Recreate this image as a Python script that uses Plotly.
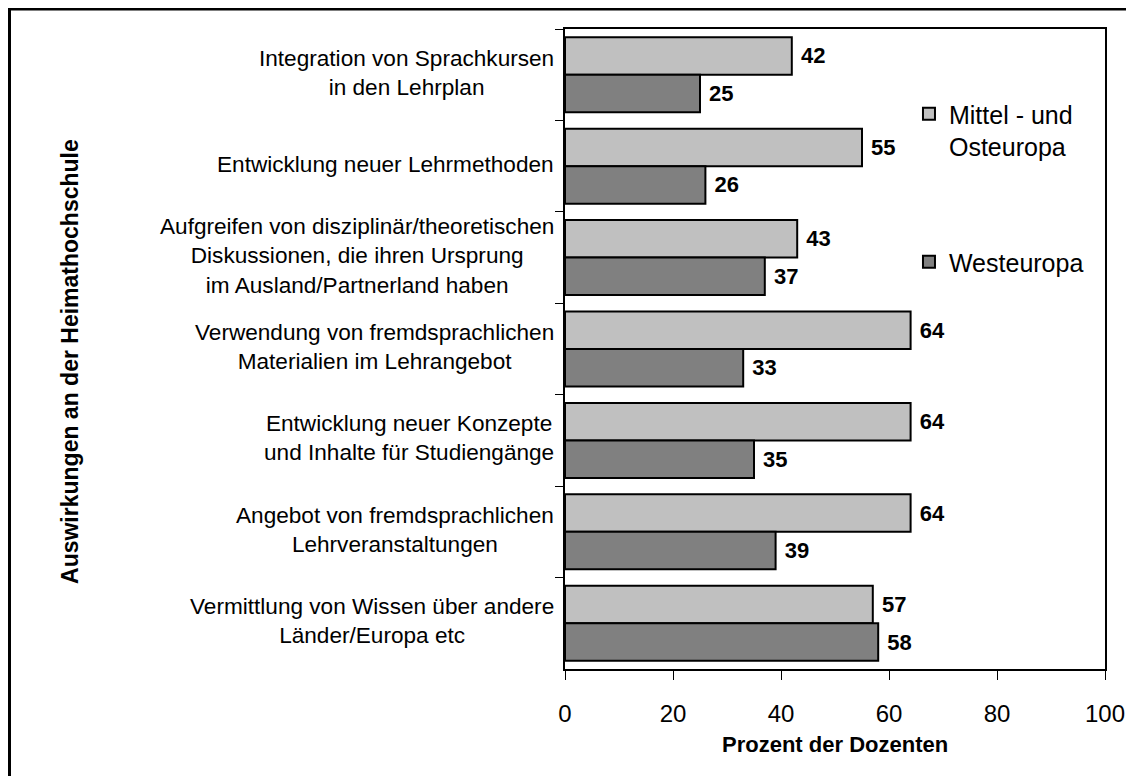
import plotly.graph_objects as go

# categories (top to bottom)
categories = [
    "Integration von Sprachkursen<br>in den Lehrplan",
    "Entwicklung neuer Lehrmethoden",
    "Aufgreifen von disziplinär/theoretischen<br>Diskussionen, die ihren Ursprung<br>im Ausland/Partnerland haben",
    "Verwendung von fremdsprachlichen<br>Materialien im Lehrangebot",
    "Entwicklung neuer Konzepte<br>und Inhalte für Studiengänge",
    "Angebot von fremdsprachlichen<br>Lehrveranstaltungen",
    "Vermittlung von Wissen über andere<br>Länder/Europa etc",
]
mittel_ost = [42, 55, 43, 64, 64, 64, 57]
west = [25, 26, 37, 33, 35, 39, 58]
x_ticks = [0, 20, 40, 60, 80, 100]

FONT = "Liberation Sans, Arial, sans-serif"

fig = go.Figure()
fig.add_trace(go.Bar(
    name="Mittel - und<br>Osteuropa", y=categories, x=mittel_ost, orientation="h",
    marker=dict(color="#C0C0C0", line=dict(color="black", width=2)),
    texttemplate=" %{x}", textposition="outside", cliponaxis=False,
    textfont=dict(family=FONT, size=22, color="black", weight="bold"),
    legendgroup="a",
))
fig.add_trace(go.Bar(
    name="Westeuropa", y=categories, x=west, orientation="h",
    marker=dict(color="#808080", line=dict(color="black", width=2)),
    texttemplate=" %{x}", textposition="outside", cliponaxis=False,
    textfont=dict(family=FONT, size=22, color="black", weight="bold"),
    legendgroup="b",
))

# category labels: block right-aligned, lines centred
for cat in categories:
    fig.add_annotation(
        x=0, xref="paper", y=cat, yref="y", text=cat, showarrow=False,
        xanchor="right", yanchor="middle", align="center", xshift=-9, yshift=2,
        font=dict(family=FONT, size=22.6, color="black"),
    )

fig.add_annotation(
    x=-0.917, xref="paper", y=0.481, yref="paper", text="<b>Auswirkungen an der Heimathochschule</b>",
    textangle=-90, showarrow=False, xanchor="center", yanchor="middle",
    font=dict(family=FONT, size=23, color="black"),
)
fig.add_annotation(
    x=0.5, xref="paper", y=-0.118, yref="paper", text="<b>Prozent der Dozenten</b>",
    showarrow=False, xanchor="center", yanchor="middle",
    font=dict(family=FONT, size=22, color="black"),
)

# outer frame (right and bottom edges run off the page)
fig.add_shape(type="rect", xref="paper", yref="paper", x0=-1.0287, y0=-0.3, x1=1.2, y1=1.0313,
              line=dict(color="black", width=3), layer="above")

fig.update_layout(
    width=1134, height=776,
    margin=dict(l=557, r=37, t=21, b=115),
    paper_bgcolor="white", plot_bgcolor="white",
    barmode="group", bargap=0.18, bargroupgap=0,
    font=dict(family=FONT, color="black"),
    showlegend=True,
    legend=dict(
        x=0.637, y=0.903, xanchor="left", yanchor="top",
        font=dict(family=FONT, size=25, color="black"),
        tracegroupgap=80, valign="top", bgcolor="rgba(0,0,0,0)",
    ),
    xaxis=dict(
        range=[0, 100], tickvals=x_ticks, ticks="outside", ticklen=9, tickcolor="black",
        showline=True, linecolor="black", linewidth=1.5, mirror=True, showgrid=False,
        zeroline=False, ticklabelstandoff=13, tickfont=dict(family=FONT, size=24, color="black"),
    ),
    yaxis=dict(
        autorange="reversed", showticklabels=False, ticks="outside", ticklen=8,
        tickson="boundaries", tickcolor="black", showline=True, linecolor="black",
        linewidth=1.5, mirror=True, showgrid=False,
    ),
)

fig.write_html("out.html")
